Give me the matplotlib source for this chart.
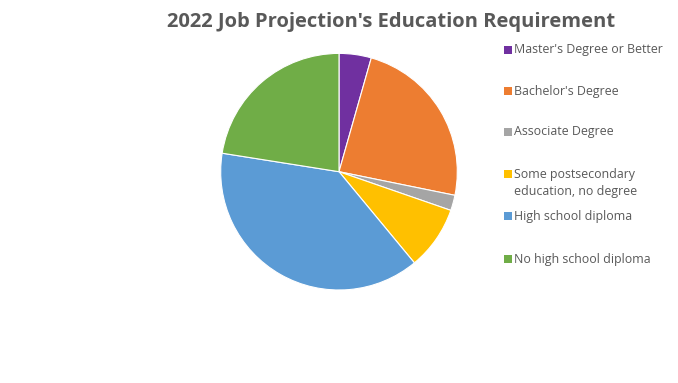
import matplotlib
matplotlib.use("Agg")
import matplotlib.pyplot as plt
from matplotlib.patches import Rectangle

categories = ["Master's Degree or Better", "Bachelor's Degree", "Associate Degree",
              "Some postsecondary\neducation, no degree", "High school diploma",
              "No high school diploma"]
values = [4.4, 23.8, 2.1, 8.7, 38.5, 22.5]
colors = ["#7030A0", "#ED7D31", "#A5A5A5", "#FFC000", "#5B9BD5", "#70AD47"]
title = "2022 Job Projection's Education Requirement"

plt.rcParams['font.family'] = ['Open Sans', 'DejaVu Sans']

W, H = 678, 383
fig = plt.figure(figsize=(W / 100, H / 100), dpi=100)
fig.patch.set_facecolor("white")

cx, cy, r = 339, 171.7, 118.3
ax = fig.add_axes([(cx - r) / W, 1 - (cy + r) / H, 2 * r / W, 2 * r / H])
ax.pie(values, colors=colors, startangle=90, counterclock=False,
       wedgeprops=dict(edgecolor="white", linewidth=0.8))
ax.set_xlim(-1, 1)
ax.set_ylim(-1, 1)
ax.set_aspect("equal")
ax.axis("off")

fig.text(391 / W, 1 - 22 / H, title, ha="center", va="center",
         fontsize=14.5, fontweight="bold", color="#595959")

# legend (manual, to match spacing)
legend_y = [50, 91, 132, 174, 216, 259]
line_gap = 18
for lab, col, y in zip(categories, colors, legend_y):
    fig.patches.append(Rectangle((504 / W, 1 - (y + 4) / H), 8 / W, 8 / H,
                                 transform=fig.transFigure, facecolor=col,
                                 edgecolor="none"))
    for i, line in enumerate(lab.split("\n")):
        fig.text(514 / W, 1 - (y + i * line_gap) / H, line, ha="left",
                 va="center", fontsize=8.9, color="#595959")

fig.savefig("out.png", dpi=100)
